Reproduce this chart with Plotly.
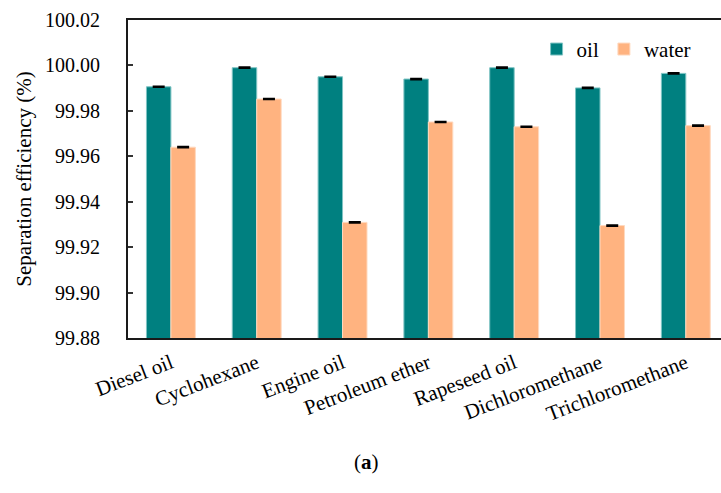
import plotly.graph_objects as go

# Separation efficiency of the membrane for various oil/water mixtures
solvents = ["Diesel oil", "Cyclohexane", "Engine oil", "Petroleum ether",
            "Rapeseed oil", "Dichloromethane", "Trichloromethane"]
oil_eff = [99.9906, 99.9990, 99.9950, 99.9940, 99.9990, 99.9901, 99.9965]
water_eff = [99.9640, 99.9852, 99.9309, 99.9751, 99.9730, 99.9295, 99.9735]
oil_err = [0.0001] * 7
water_err = [0.0001] * 7

y_ticks = [99.88, 99.90, 99.92, 99.94, 99.96, 99.98, 100.00, 100.02]

FONT = "Liberation Serif"
TEAL = "#008080"
PEACH = "#FFB380"

fig = go.Figure()
fig.add_trace(go.Bar(
    x=solvents, y=oil_eff, name="oil",
    marker=dict(color=TEAL, line=dict(color="#7fc4c4", width=1)),
    error_y=dict(type="data", array=oil_err, visible=True,
                 color="black", thickness=2.2, width=6),
))
fig.add_trace(go.Bar(
    x=solvents, y=water_eff, name="water",
    marker=dict(color=PEACH, line=dict(color="#ffd9bf", width=1)),
    error_y=dict(type="data", array=water_err, visible=True,
                 color="black", thickness=2.2, width=6),
))

fig.update_layout(
    width=721, height=493,
    margin=dict(l=128, r=0, t=20, b=155),
    paper_bgcolor="white", plot_bgcolor="white",
    barmode="group", bargap=0.43, bargroupgap=0,
    font=dict(family=FONT, color="black", size=20),
    showlegend=True,
    legend=dict(orientation="h", x=0.689, y=0.972, xanchor="left", yanchor="top",
                font=dict(family=FONT, size=21, color="black"), bgcolor="rgba(0,0,0,0)",
                itemwidth=30, tracegroupgap=0),
)

fig.update_xaxes(
    range=[-0.5, 6.41],
    showline=True, linecolor="#1a1a1a", linewidth=2, mirror=True,
    ticks="", tickangle=-21, tickfont=dict(family=FONT, size=21, color="black"),
    ticklabelstandoff=3,
)
fig.update_yaxes(
    range=[99.88, 100.02], tickvals=y_ticks, tickformat=".2f",
    showline=True, linecolor="#1a1a1a", linewidth=2,
    ticks="inside", ticklen=5, tickwidth=1.5, tickcolor="#333",
    showgrid=False, zeroline=False,
    tickfont=dict(family=FONT, size=20, color="black"), ticklabelstandoff=22,
    title=dict(text="Separation efficiency (%)",
               font=dict(family=FONT, size=21, color="black"), standoff=8),
)

fig.add_annotation(
    text="(<b>a</b>)", xref="paper", yref="paper",
    x=(366 - 128) / 593, y=(338 - 462) / 318,
    xanchor="center", yanchor="middle", showarrow=False,
    font=dict(family=FONT, size=21, color="black"),
)

fig.write_html("out.html")
